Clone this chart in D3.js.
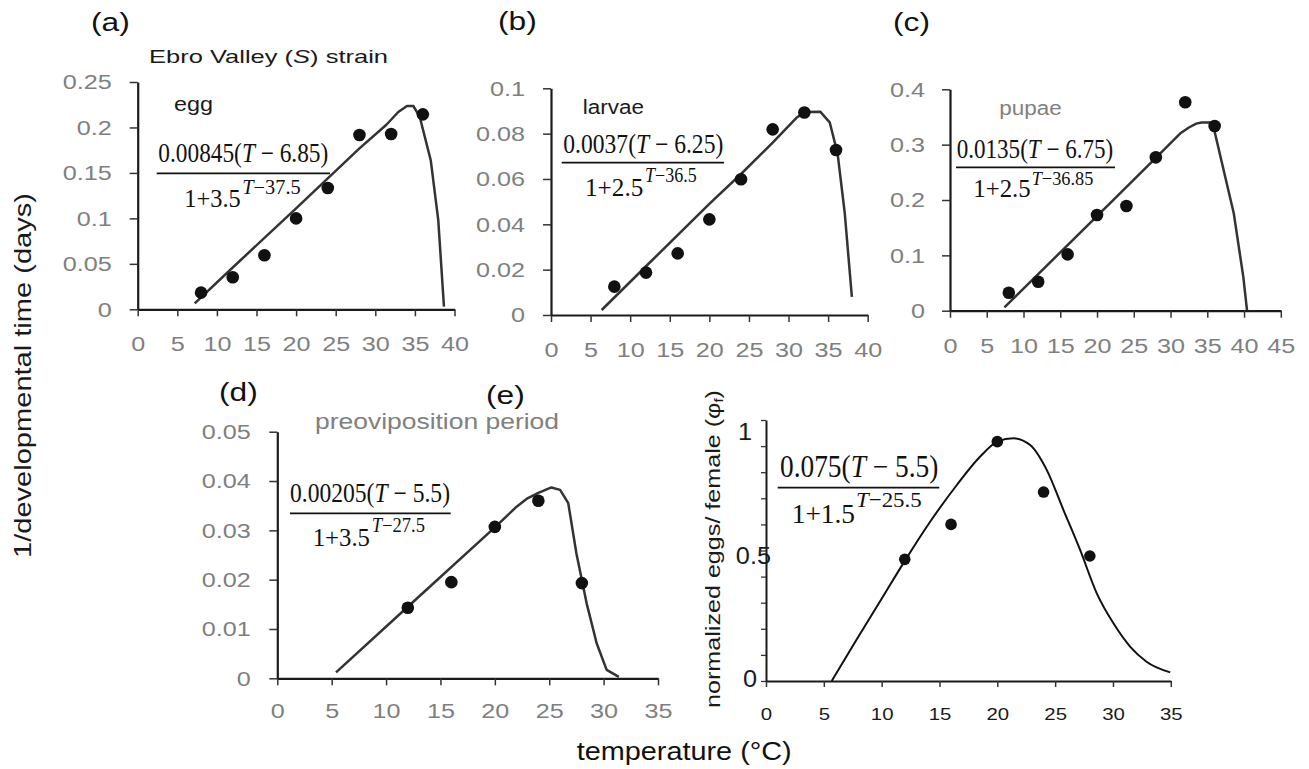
<!DOCTYPE html>
<html><head><meta charset="utf-8">
<script src="https://cdn.jsdelivr.net/npm/d3@7"></script>
<style>body{margin:0;background:#fff}svg{display:block}</style>
</head><body>
<svg id="c" width="1309" height="769"></svg>
<script>
// ---------------- DATA ----------------
const tempsImmature = [8, 12, 16, 20, 24, 28, 32, 36];
const eggRate    = [0.0183, 0.0352, 0.0594, 0.100, 0.1334, 0.1917, 0.1928, 0.2144];
const larvaeRate = [0.0125, 0.0187, 0.0272, 0.0422, 0.0599, 0.0819, 0.0893, 0.0728];
const pupaeRate  = [0.0325, 0.0524, 0.1018, 0.1729, 0.1892, 0.2771, 0.3765, 0.3337];
const tempsAdult = [12, 16, 20, 24, 28];
const preovRate  = [0.0143, 0.0195, 0.0307, 0.0360, 0.0193];
const eggsNorm   = [0.466, 0.600, 0.917, 0.724, 0.479];

const eggCurveT = [7.2, 12, 20, 28, 31.4, 32.9, 34, 34.8, 35.6, 37.0, 37.95, 38.67];
const eggCurveV = [0.0066, 0.046, 0.111, 0.177, 0.203, 0.217, 0.2236, 0.2236, 0.212, 0.164, 0.098, 0.003];
const larvaeCurveT = [6.4, 12, 20, 24, 28, 31, 32.1, 34, 35.2, 36.2, 37.1, 38];
const larvaeCurveV = [0.0022, 0.0215, 0.0490, 0.0622, 0.0760, 0.0870, 0.0895, 0.0897, 0.0850, 0.0712, 0.045, 0.008];
const pupaeCurveT = [7.4, 12, 20, 28, 31.3, 32.5, 33.5, 34.2, 35.4, 35.85, 36.75, 38.6, 39.9, 40.4];
const pupaeCurveV = [0.006, 0.066, 0.171, 0.276, 0.320, 0.331, 0.338, 0.340, 0.340, 0.332, 0.281, 0.176, 0.061, 0.001];
const preovCurveT = [5.4, 12, 20, 22, 23, 24, 25.2, 26, 26.75, 27.5, 28.44, 29.36, 30.28, 31.4];
const preovCurveV = [0.0012, 0.0145, 0.0306, 0.0348, 0.0365, 0.0376, 0.0387, 0.0382, 0.0355, 0.0253, 0.0152, 0.0071, 0.0017, 0.0003];
const eggsCurveT = [5.68, 7.85, 10, 12.07, 14.19, 16.5, 18.5, 20, 21.4, 22.84, 24.28, 25.72, 27.16, 28.6, 30.04, 31.5, 32.9, 34.95];
const eggsCurveV = [0, 0.160, 0.315, 0.465, 0.61, 0.751, 0.859, 0.917, 0.930, 0.904, 0.808, 0.655, 0.502, 0.336, 0.221, 0.131, 0.074, 0.033];

const xTicks40 = [0, 5, 10, 15, 20, 25, 30, 35, 40];
const xTicks45 = [0, 5, 10, 15, 20, 25, 30, 35, 40, 45];
const xTicks35 = [0, 5, 10, 15, 20, 25, 30, 35];
const yTicksA = [0, 0.05, 0.1, 0.15, 0.2, 0.25];
const yLabelsA = ["0", "0.05", "0.1", "0.15", "0.2", "0.25"];
const yTicksB = [0, 0.02, 0.04, 0.06, 0.08, 0.1];
const yLabelsB = ["0", "0.02", "0.04", "0.06", "0.08", "0.1"];
const yTicksC = [0, 0.1, 0.2, 0.3, 0.4];
const yLabelsC = ["0", "0.1", "0.2", "0.3", "0.4"];
const yTicksD = [0, 0.01, 0.02, 0.03, 0.04, 0.05];
const yLabelsD = ["0", "0.01", "0.02", "0.03", "0.04", "0.05"];
const yMinorTicksE = [0, 0.1, 0.2, 0.3, 0.4, 0.5, 0.6, 0.7, 0.8, 0.9, 1.0];
const yTicksE = [0, 0.5, 1];
const yLabelsE = ["0", "0.5", "1"];

// ---------------- HELPERS ----------------
const svg = d3.select("#c");
const SANS = "'Liberation Sans', Arial, sans-serif";
const SERIF = "'Liberation Serif', 'Times New Roman', serif";

function rich(parent, x, y, parts, o) {
  let tf = `translate(${x},${y})`;
  if (o.rotate) tf += ` rotate(${o.rotate})`;
  if (o.sx) tf += ` scale(${o.sx},1)`;
  const t = parent.append("text")
    .attr("transform", tf)
    .attr("font-family", o.family || SANS)
    .attr("font-size", o.size)
    .attr("fill", o.fill || "#111")
    .attr("text-anchor", o.anchor || "start");
  parts.forEach(p => {
    const s = t.append("tspan").text(p[0]);
    if (p[1] && p[1].italic) s.attr("font-style", "italic");
    if (p[1] && p[1].size) s.attr("font-size", p[1].size);
    if (p[1] && p[1].dy !== undefined) s.attr("dy", p[1].dy);
  });
  if (o.len) t.attr("textLength", o.len).attr("lengthAdjust", "spacingAndGlyphs");
  return t;
}

function formula(g, f) {
  rich(g, f.nx, f.ny, [[f.numA], ["T", {italic: true}], [f.numB]], {family: SERIF, size: f.ns, len: f.nl});
  g.append("line").attr("x1", f.bx0).attr("x2", f.bx1).attr("y1", f.by).attr("y2", f.by)
    .attr("stroke", "#111").attr("stroke-width", 1.7);
  rich(g, f.dx, f.dy, [[f.den]], {family: SERIF, size: f.ds, len: f.dl});
  rich(g, f.sx, f.sy, [["T", {italic: true}], [f.sup]], {family: SERIF, size: f.ss, len: f.sl});
}

function panel(p) {
  const g = svg.append("g");
  const x = d3.scaleLinear().domain(p.xDomain).range([p.px0, p.px1]);
  const y = d3.scaleLinear().domain(p.yDomain).range([p.py0, p.py1]);

  // x axis
  const xa = g.append("g").attr("transform", `translate(0,${p.py0})`)
    .call(d3.axisBottom(x).tickValues(p.xTicks).tickSize(p.xTickLen).tickSizeOuter(0).tickFormat(d3.format("d")));
  xa.select(".domain").attr("stroke", "#1a1a1a").attr("stroke-width", 2.2);
  xa.selectAll(".tick line").attr("stroke", "#333").attr("stroke-width", 1.5);
  xa.selectAll(".tick text").attr("y", 0).attr("dy", 0)
    .attr("transform", `translate(0,${p.xLabelOff}) scale(${p.xLabelSx},1)`)
    .attr("font-family", SANS).attr("font-size", p.xLabelSize).attr("fill", p.labelFill);

  // y axis
  if (p.yMinor) {
    const ym = g.append("g").attr("transform", `translate(${p.px0},0)`)
      .call(d3.axisLeft(y).tickValues(p.yMinor).tickSize(5).tickSizeOuter(0).tickFormat(""));
    ym.select(".domain").attr("stroke", "#1a1a1a").attr("stroke-width", 2);
    ym.selectAll(".tick line").attr("stroke", "#333").attr("stroke-width", 1.3);
    const nudge = [[-9, -3], [5, 4.5], [-14, 11]];
    p.yTicks.forEach((v, i) => {
      rich(g, p.px0 + nudge[i][0], y(v) + nudge[i][1], [[p.yLabels[i]]],
        {size: p.yLabelSize, anchor: "end", fill: p.labelFill, sx: p.yLabelSx})
        .attr("dominant-baseline", "central");
    });
  } else {
    const ya = g.append("g").attr("transform", `translate(${p.px0},0)`)
      .call(d3.axisLeft(y).tickValues(p.yTicks).tickSize(p.yTickLen).tickSizeOuter(0)
        .tickFormat((d, i) => p.yLabels[i]));
    ya.select(".domain").attr("stroke", "#1a1a1a").attr("stroke-width", 2.2);
    ya.selectAll(".tick line").attr("stroke", "#333").attr("stroke-width", 1.5);
    ya.selectAll(".tick text").attr("x", 0).attr("dy", "0.33em")
      .attr("transform", `translate(${-p.yLabelOff},0) scale(${p.yLabelSx},1)`)
      .attr("font-family", SANS).attr("font-size", p.yLabelSize).attr("fill", p.labelFill);
  }

  // curve
  const line = d3.line().x(d => x(d[0])).y(d => y(d[1])).curve(p.smooth ? d3.curveMonotoneX : d3.curveLinear);
  g.append("path").datum(p.cT.map((t, i) => [t, p.cV[i]]))
    .attr("d", line).attr("fill", "none").attr("stroke", p.curveColor).attr("stroke-width", p.curveW)
    .attr("stroke-linejoin", "round");

  // points
  g.selectAll("circle.pt").data(p.T.map((t, i) => [t, p.V[i]])).join("circle")
    .attr("cx", d => x(d[0])).attr("cy", d => y(d[1])).attr("r", p.r).attr("fill", "#111");

  // panel letter
  rich(g, p.letter[1], p.letter[2], [[p.letter[0]]], {size: 26, sx: 1.22, fill: "#111"});
  // stage label
  if (p.stage) rich(g, p.stage.x, p.stage.y, [[p.stage.text]], {size: p.stage.size, fill: p.stage.fill, len: p.stage.len});
  formula(g, p.f);
  return g;
}

// ---------------- PANELS ----------------
const grey = "#7f7f7f";
const common = {xTickLen: 7, yTickLen: 8, xLabelOff: 42, xLabelSize: 21, xLabelSx: 1.2,
  yLabelSize: 21, yLabelSx: 1.2, yLabelOff: 26, labelFill: grey, curveColor: "#333", curveW: 2.5, r: 6.3};

panel(Object.assign({}, common, {
  xDomain: [0, 40], yDomain: [0, 0.25], px0: 137.7, px1: 454.5, py0: 309.3, py1: 82,
  xTicks: xTicks40, yTicks: yTicksA, yLabels: yLabelsA,
  T: tempsImmature, V: eggRate, cT: eggCurveT, cV: eggCurveV,
  letter: ["(a)", 91, 31],
  stage: {text: "egg", x: 174, y: 110.7, size: 20, fill: "#1a1a1a", len: 39},
  f: {numA: "0.00845(", numB: " \u2212 6.85)", nx: 158.3, ny: 161.7, ns: 27, nl: 170,
      bx0: 156.7, bx1: 330, by: 173.3,
      den: "1+3.5", dx: 184.3, dy: 207.3, ds: 25, dl: 56.4,
      sup: "\u221237.5", sx: 242.3, sy: 194.3, ss: 20, sl: 58.4}
}));

panel(Object.assign({}, common, {
  xDomain: [0, 40], yDomain: [0, 0.1], px0: 551, px1: 867.7, py0: 315, py1: 88.3,
  xTicks: xTicks40, yTicks: yTicksB, yLabels: yLabelsB,
  T: tempsImmature, V: larvaeRate, cT: larvaeCurveT, cV: larvaeCurveV,
  letter: ["(b)", 498, 30],
  stage: {text: "larvae", x: 582.7, y: 114, size: 20, fill: "#1a1a1a", len: 61.3},
  f: {numA: "0.0037(", numB: " \u2212 6.25)", nx: 563.3, ny: 153.3, ns: 27, nl: 160,
      bx0: 561.7, bx1: 724, by: 162.7,
      den: "1+2.5", dx: 585, dy: 196, ds: 25, dl: 58.3,
      sup: "\u221236.5", sx: 645, sy: 181.7, ss: 20, sl: 51.7}
}));

panel(Object.assign({}, common, {
  xDomain: [0, 45], yDomain: [0, 0.4], px0: 950, px1: 1280.8, py0: 310.7, py1: 89.3,
  xTicks: xTicks45, yTicks: yTicksC, yLabels: yLabelsC, yLabelOff: 25,
  T: tempsImmature, V: pupaeRate, cT: pupaeCurveT, cV: pupaeCurveV,
  letter: ["(c)", 893, 31],
  stage: {text: "pupae", x: 999.3, y: 114.5, size: 20, fill: "#808080", len: 62.4},
  f: {numA: "0.0135(", numB: " \u2212 6.75)", nx: 956.7, ny: 158.3, ns: 27, nl: 156.6,
      bx0: 956, bx1: 1115, by: 167.3,
      den: "1+2.5", dx: 973.3, dy: 196.7, ds: 25, dl: 57.4,
      sup: "\u221236.85", sx: 1031.7, sy: 185, ss: 19, sl: 61.6}
}));

panel(Object.assign({}, common, {
  xDomain: [0, 35], yDomain: [0, 0.05], px0: 277.3, px1: 658, py0: 678.3, py1: 431.7,
  xTicks: xTicks35, yTicks: yTicksD, yLabels: yLabelsD, yLabelOff: 26.6, xLabelOff: 40,
  T: tempsAdult, V: preovRate, cT: preovCurveT, cV: preovCurveV,
  letter: ["(d)", 219, 401],
  stage: {text: "preoviposition period", x: 315, y: 429.3, size: 22, fill: "#808080", len: 244},
  f: {numA: "0.00205(", numB: " \u2212 5.5)", nx: 290, ny: 501.7, ns: 27, nl: 160,
      bx0: 290, bx1: 450.7, by: 513.3,
      den: "1+3.5", dx: 312.7, dy: 546, ds: 25, dl: 57.3,
      sup: "\u221227.5", sx: 371.7, sy: 531.7, ss: 20, sl: 53.3}
}));

panel(Object.assign({}, common, {
  xDomain: [0, 35], yDomain: [0, 1], px0: 766, px1: 1170.8, py0: 681, py1: 420,
  xTicks: xTicks35, xTickLen: 6, xLabelOff: 39, xLabelSize: 17, xLabelSx: 1.2,
  yTicks: yTicksE, yLabels: yLabelsE, yMinor: yMinorTicksE, yLabelSize: 23, yLabelSx: 1.1,
  labelFill: "#1a1a1a", curveColor: "#111", curveW: 2, r: 5.8, smooth: true,
  T: tempsAdult, V: eggsNorm, cT: eggsCurveT, cV: eggsCurveV,
  letter: ["(e)", 486, 404],
  stage: null,
  f: {numA: "0.075(", numB: " \u2212 5.5)", nx: 780, ny: 477.3, ns: 31, nl: 158.3,
      bx0: 777.7, bx1: 939.3, by: 487.7,
      den: "1+1.5", dx: 791.7, dy: 522.7, ds: 28, dl: 63.3,
      sup: "\u221225.5", sx: 856, sy: 506.7, ss: 22, sl: 65.7}
}));

// ---------------- GLOBAL TEXT ----------------
rich(svg, 149, 63.3, [["Ebro Valley  ("], ["S", {italic: true}], [") strain"]], {size: 19, fill: "#1a1a1a", len: 239});
rich(svg, 31, 558, [["1/developmental time (days)"]], {size: 24, rotate: -90, fill: "#1a1a1a", len: 365});
rich(svg, 576.7, 760, [["temperature (\u00B0C)"]], {size: 25, fill: "#111", len: 215});
rich(svg, 720, 708, [["normalized eggs/ female ("], ["\u03C6"], ["f", {size: 12, dy: 3}], [")", {dy: -3}]],
  {size: 20, rotate: -90, fill: "#1a1a1a", len: 318});
</script>
</body></html>
